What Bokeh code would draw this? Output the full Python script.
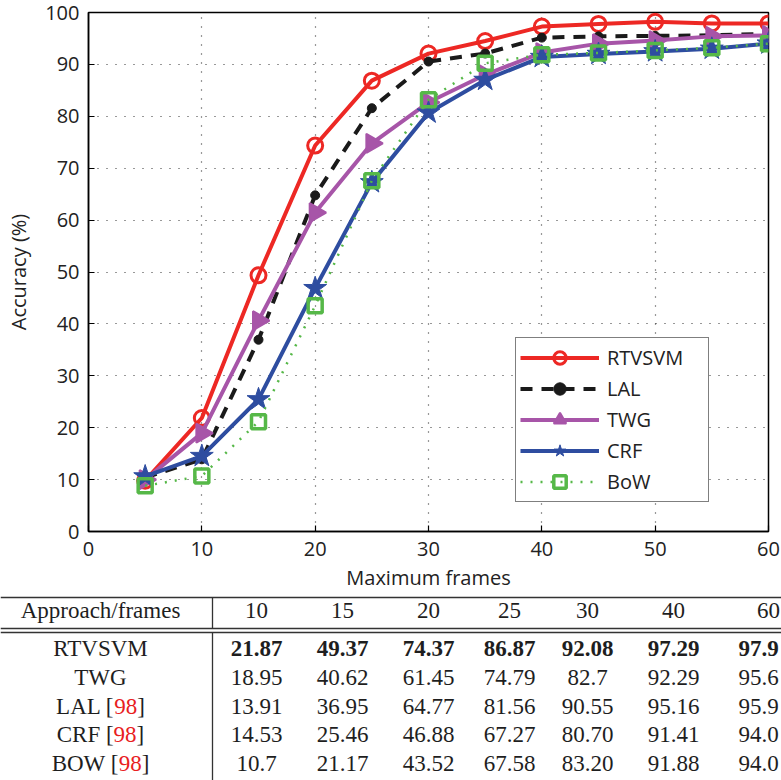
from bokeh.plotting import figure
from bokeh.models import Range1d, Legend, LegendItem, FixedTicker
from bokeh.embed import file_html
from bokeh.resources import INLINE

# ---------------- data ----------------
frames = [5, 10, 15, 20, 25, 30, 35, 40, 45, 50, 55, 60]
rtvsvm = [9.8, 21.87, 49.37, 74.37, 86.87, 92.08, 94.5, 97.29, 97.8, 98.2, 97.9, 97.9]
lal    = [10.4, 13.91, 36.95, 64.77, 81.56, 90.55, 92.1, 95.16, 95.4, 95.5, 95.6, 95.9]
twg    = [10.0, 18.95, 40.62, 61.45, 74.79, 82.7, 88.0, 92.29, 94.0, 94.6, 95.4, 95.6]
crf    = [10.6, 14.53, 25.46, 46.88, 67.27, 80.70, 87.0, 91.41, 92.0, 92.5, 93.0, 94.0]
bow    = [8.8, 10.7, 21.17, 43.52, 67.58, 83.20, 90.2, 91.88, 92.2, 92.7, 93.2, 94.0]

x_ticks = [0, 10, 20, 30, 40, 50, 60]
y_ticks = [0, 10, 20, 30, 40, 50, 60, 70, 80, 90, 100]

# table
table_header = ["Approach/frames", "10", "15", "20", "25", "30", "40", "60"]
table_names = ["RTVSVM", "TWG", "LAL", "CRF", "BOW"]
table_refs = ["", "", "98", "98", "98"]
table_values = [
    ["21.87", "49.37", "74.37", "86.87", "92.08", "97.29", "97.9"],
    ["18.95", "40.62", "61.45", "74.79", "82.7", "92.29", "95.6"],
    ["13.91", "36.95", "64.77", "81.56", "90.55", "95.16", "95.9"],
    ["14.53", "25.46", "46.88", "67.27", "80.70", "91.41", "94.0"],
    ["10.7", "21.17", "43.52", "67.58", "83.20", "91.88", "94.0"],
]

# ---------------- styles ----------------
SANS = "Open Sans"
SERIF = "Liberation Serif"
RED = "#ED2824"
BLACK = "#1A1A1A"
PURPLE = "#A755A8"
BLUE = "#2E4DA0"
GREEN = "#56B848"
W = 781
CH = 593

p = figure(width=W, height=CH, x_range=Range1d(0, 60), y_range=Range1d(0, 100),
           output_backend="svg", toolbar_location=None,
           min_border_left=88, min_border_right=13, min_border_top=12, min_border_bottom=59)
p.background_fill_color = "white"
p.border_fill_color = "white"
p.outline_line_color = "black"
p.outline_line_width = 1.5

for ax in (p.xaxis[0], p.yaxis[0]):
    ax.axis_line_width = 1.5
    ax.axis_line_color = "black"
    ax.major_tick_in = 6
    ax.major_tick_out = 0
    ax.major_tick_line_width = 1.2
    ax.minor_tick_line_color = None
    ax.major_label_text_font = SANS
    ax.major_label_text_font_size = "20px"
    ax.major_label_text_color = "#222222"
    ax.axis_label_text_font = SANS
    ax.axis_label_text_font_size = "20px"
    ax.axis_label_text_font_style = "normal"
    ax.axis_label_text_color = "#222222"

p.xaxis.ticker = FixedTicker(ticks=x_ticks)
p.yaxis.ticker = FixedTicker(ticks=y_ticks)
p.xaxis.axis_label = "Maximum frames"
p.yaxis.axis_label = "Accuracy (%)"
p.xaxis.major_label_standoff = 10
p.xaxis.axis_label_standoff = 5
p.yaxis.major_label_standoff = 9
p.yaxis.axis_label_standoff = 10

p.grid.grid_line_color = "#333333"
p.grid.grid_line_dash = "1 8"
p.grid.grid_line_width = 1.2

series = [
    ("RTVSVM", rtvsvm, dict(line_color=RED, line_width=4),
     dict(marker="circle", size=15, line_color=RED, line_width=3, fill_color=None)),
    ("LAL", lal, dict(line_color=BLACK, line_width=4, line_dash="12 9"),
     dict(marker="circle", size=9, line_color=BLACK, fill_color=BLACK)),
    ("TWG", twg, dict(line_color=PURPLE, line_width=4),
     dict(marker="triangle", size=19, angle=-1.5708, line_color=PURPLE, line_width=2,
          fill_color=PURPLE)),
    ("CRF", crf, dict(line_color=BLUE, line_width=4),
     dict(marker="star", size=24, line_color=BLUE, fill_color=BLUE)),
    ("BoW", bow, dict(line_color=GREEN, line_width=2.5, line_dash="2 8"),
     dict(marker="square", size=14, line_color=GREEN, line_width=3.5, fill_color=None)),
]

items = []
for name, ys, lkw, mkw in series:
    r1 = p.line(frames, ys, **lkw)
    r2 = p.scatter(frames, ys, **mkw)
    items.append(LegendItem(label=name, renderers=[r1, r2]))

legend = Legend(items=items, location=(427, 29))
legend.border_line_color = "black"
legend.border_line_width = 1.5
legend.background_fill_color = "white"
legend.background_fill_alpha = 1
legend.label_text_font = SANS
legend.label_text_font_size = "20px"
legend.label_text_color = "#222222"
legend.glyph_width = 79
legend.glyph_height = 31
legend.label_height = 31
legend.spacing = 0
legend.padding = 4
legend.margin = 0
legend.label_standoff = 8
legend.label_width = 97
p.add_layout(legend)

# ---------------- table ----------------
TH = 780 - CH
t = figure(width=W, height=TH, x_range=Range1d(0, W), y_range=Range1d(TH, 0),
           output_backend="svg", toolbar_location=None, min_border=0,
           x_axis_type=None, y_axis_type=None)
t.outline_line_color = None
t.background_fill_color = "white"
t.border_fill_color = "white"

TOP_Y = 4
HEADER_Y = 17
RULE1_Y = 35
RULE2_Y = 39
ROW0_Y = 55
ROW_PITCH = 28.75
NAME_X = 100
SEP_X = 212
col_x = [256, 342, 428, 509, 587, 673, 758]
head_x = col_x[:-1] + [768]

LINE = "#333333"
t.segment(x0=[0, 0, 0, SEP_X, SEP_X], y0=[TOP_Y, RULE1_Y, RULE2_Y, TOP_Y, RULE2_Y],
          x1=[W, W, W, SEP_X, SEP_X], y1=[TOP_Y, RULE1_Y, RULE2_Y, RULE1_Y, TH],
          line_color=LINE, line_width=1.3)

FS = "23px"
TXT = "#1E1E1E"
common = dict(text_font=SERIF, text_font_size=FS, text_color=TXT, text_baseline="middle")

t.text(x=[NAME_X] + head_x, y=[HEADER_Y] * 8, text=table_header, text_align="center", **common)

# Times-like advance widths (em) used to lay out "NAME [98]"
TW = {"A": .722, "B": .667, "C": .667, "F": .556, "L": .611, "O": .722, "R": .667,
      "W": .944, " ": .25, "[": .333, "]": .333, "9": .5, "8": .5}
em = 23.0

row_y = [ROW0_Y + i * ROW_PITCH for i in range(len(table_names))]
plain_x, plain_y, plain_t = [], [], []
left_x, left_y, left_t, ref_x, ref_y, ref_t, br_x, br_y = [], [], [], [], [], [], [], []
for i, (nm, rf) in enumerate(zip(table_names, table_refs)):
    if not rf:
        plain_x.append(NAME_X); plain_y.append(row_y[i]); plain_t.append(nm)
    else:
        pre = nm + " ["
        w_pre = sum(TW.get(c, .5) for c in pre) * em
        w_ref = sum(TW.get(c, .5) for c in rf) * em
        w_tot = w_pre + w_ref + TW["]"] * em
        start = NAME_X - w_tot / 2
        left_x.append(start + w_pre); left_y.append(row_y[i]); left_t.append(pre)
        ref_x.append(start + w_pre); ref_y.append(row_y[i]); ref_t.append(rf)
        br_x.append(start + w_pre + w_ref); br_y.append(row_y[i])

t.text(x=plain_x, y=plain_y, text=plain_t, text_align="center", **common)
t.text(x=left_x, y=left_y, text=left_t, text_align="right", **common)
t.text(x=ref_x, y=ref_y, text=ref_t, text_align="left", text_font=SERIF, text_font_size=FS,
       text_color="#E8201E", text_baseline="middle")
t.text(x=br_x, y=br_y, text=["]"] * len(br_x), text_align="left", **common)

for i, vals in enumerate(table_values):
    t.text(x=col_x, y=[row_y[i]] * len(vals), text=vals, text_align="center",
           text_font_style="bold" if i == 0 else "normal", **common)

open("out.html", "w").write(file_html([p, t], INLINE))
